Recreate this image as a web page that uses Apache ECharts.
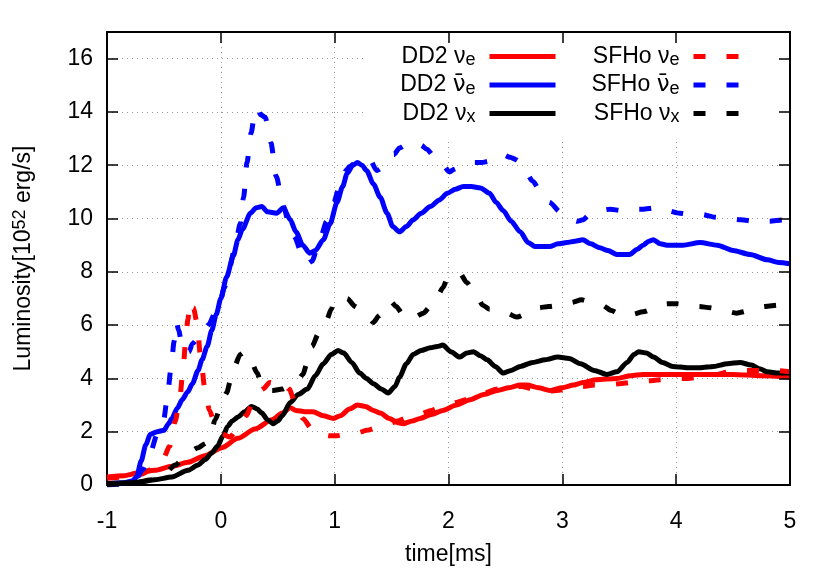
<!DOCTYPE html>
<html>
<head>
<meta charset="utf-8">
<script src="https://cdn.jsdelivr.net/npm/echarts@6/dist/echarts.min.js"></script>
<style>html,body{margin:0;padding:0;background:#fff}#c{width:830px;height:581px}</style>
</head>
<body>
<div id="c"></div>
<script>
// ---- data (time in ms, luminosity in 1e52 erg/s) ----
const xTicks = [-1, 0, 1, 2, 3, 4, 5];
const yTicks = [0, 2, 4, 6, 8, 10, 12, 14, 16];
const seriesNames = ['DD2 νe', 'DD2 anue', 'DD2 νx', 'SFHo νe', 'SFHo anue', 'SFHo νx'];

const dd2Nue = [[-1,0.3],[-0.85,0.35],[-0.73,0.45],[-0.58,0.55],[-0.43,0.7],[-0.29,0.85],[-0.14,1.1],[0.01,1.4],[0.15,1.75],[0.3,2.1],[0.45,2.45],[0.54,2.7],[0.61,2.9],[0.66,2.8],[0.74,2.75],[0.81,2.75],[0.9,2.6],[0.99,2.5],[1.05,2.6],[1.13,2.85],[1.2,3.0],[1.27,2.95],[1.34,2.8],[1.4,2.7],[1.48,2.5],[1.55,2.35],[1.6,2.3],[1.68,2.4],[1.75,2.5],[1.85,2.65],[1.95,2.8],[2.07,3.0],[2.19,3.2],[2.31,3.4],[2.43,3.55],[2.53,3.65],[2.63,3.75],[2.69,3.75],[2.79,3.65],[2.89,3.55],[3.0,3.65],[3.1,3.75],[3.18,3.85],[3.3,3.95],[3.48,4.0],[3.6,4.1],[3.71,4.15],[3.9,4.15],[4.06,4.15],[4.3,4.15],[4.5,4.15],[4.75,4.1],[5,4.05]];

const dd2Anue = [[-1,0.05],[-0.85,0.08],[-0.78,0.15],[-0.74,0.3],[-0.7,0.9],[-0.66,1.5],[-0.62,1.9],[-0.56,2.0],[-0.5,2.05],[-0.46,2.3],[-0.43,2.5],[-0.38,2.9],[-0.34,3.2],[-0.29,3.5],[-0.25,3.8],[-0.2,4.3],[-0.165,4.7],[-0.12,5.2],[-0.08,5.8],[-0.04,6.4],[0.0,7.0],[0.05,7.8],[0.11,8.6],[0.15,9.2],[0.19,9.6],[0.26,10.2],[0.31,10.4],[0.36,10.45],[0.41,10.25],[0.49,10.2],[0.55,10.4],[0.61,9.95],[0.66,9.5],[0.72,9.0],[0.78,8.7],[0.83,8.8],[0.9,9.2],[0.96,9.8],[1.02,10.6],[1.07,11.2],[1.11,11.7],[1.16,12.0],[1.2,12.1],[1.24,12.0],[1.28,11.8],[1.34,11.3],[1.4,10.8],[1.46,10.2],[1.51,9.7],[1.57,9.5],[1.63,9.7],[1.69,9.95],[1.76,10.2],[1.84,10.45],[1.92,10.7],[1.99,10.95],[2.06,11.1],[2.13,11.2],[2.2,11.2],[2.28,11.15],[2.36,10.95],[2.42,10.6],[2.48,10.3],[2.55,9.9],[2.63,9.5],[2.7,9.1],[2.76,8.95],[2.89,8.95],[2.96,9.05],[3.04,9.1],[3.11,9.15],[3.18,9.2],[3.25,9.05],[3.33,8.9],[3.4,8.8],[3.48,8.65],[3.59,8.65],[3.66,8.85],[3.71,9.0],[3.76,9.15],[3.8,9.2],[3.86,9.05],[3.92,9.0],[4.06,9.0],[4.21,9.1],[4.36,9.0],[4.5,8.8],[4.65,8.65],[4.8,8.45],[4.9,8.35],[5,8.3]];

const dd2Nux = [[-1,0.05],[-0.8,0.08],[-0.7,0.12],[-0.58,0.2],[-0.43,0.3],[-0.29,0.55],[-0.2,0.75],[-0.14,0.95],[-0.08,1.2],[-0.03,1.45],[0.02,1.85],[0.06,2.2],[0.1,2.4],[0.15,2.55],[0.21,2.75],[0.27,2.95],[0.32,2.85],[0.36,2.7],[0.41,2.45],[0.46,2.3],[0.5,2.4],[0.54,2.6],[0.61,3.1],[0.68,3.4],[0.76,3.6],[0.83,4.1],[0.9,4.55],[0.97,4.9],[1.03,5.05],[1.08,4.95],[1.15,4.6],[1.22,4.2],[1.28,4.0],[1.34,3.8],[1.41,3.6],[1.47,3.45],[1.53,3.7],[1.57,4.05],[1.63,4.55],[1.69,4.9],[1.76,5.05],[1.84,5.15],[1.9,5.2],[1.95,5.25],[2.02,5.0],[2.1,4.8],[2.16,4.95],[2.22,5.0],[2.28,4.85],[2.34,4.7],[2.41,4.45],[2.48,4.2],[2.55,4.3],[2.63,4.45],[2.74,4.6],[2.85,4.7],[2.96,4.8],[3.06,4.75],[3.16,4.55],[3.28,4.3],[3.39,4.15],[3.48,4.25],[3.57,4.6],[3.63,4.9],[3.67,5.0],[3.74,4.95],[3.8,4.8],[3.88,4.6],[3.97,4.45],[4.1,4.4],[4.21,4.4],[4.33,4.45],[4.45,4.55],[4.56,4.6],[4.66,4.5],[4.74,4.35],[4.8,4.25],[4.9,4.2],[5,4.2]];

const sfhoNue = [[-1,0.25],[-0.85,0.3],[-0.7,0.4],[-0.6,0.6],[-0.51,0.95],[-0.45,1.45],[-0.4,2.4],[-0.36,3.3],[-0.33,4.4],[-0.31,5.4],[-0.29,6.2],[-0.27,6.9],[-0.24,6.65],[-0.21,6.1],[-0.18,4.9],[-0.14,3.6],[-0.1,2.8],[-0.06,2.4],[-0.02,2.15],[0.02,1.9],[0.08,1.8],[0.15,2.1],[0.22,2.6],[0.3,3.3],[0.37,3.6],[0.43,3.85],[0.49,3.8],[0.54,3.9],[0.6,3.6],[0.66,3.0],[0.72,2.5],[0.8,2.1],[0.87,1.95],[0.95,1.85],[1.02,1.85],[1.1,1.9],[1.2,1.95],[1.28,2.05],[1.37,2.15],[1.46,2.25],[1.55,2.4],[1.65,2.55],[1.75,2.65],[1.85,2.8],[1.95,2.95],[2.07,3.1],[2.19,3.25],[2.31,3.45],[2.43,3.6],[2.54,3.7],[2.64,3.7],[2.74,3.6],[2.84,3.5],[2.95,3.55],[3.07,3.6],[3.18,3.7],[3.28,3.75],[3.38,3.75],[3.5,3.8],[3.61,3.85],[3.73,3.9],[3.86,3.95],[3.98,4.0],[4.1,4.0],[4.22,4.05],[4.35,4.15],[4.47,4.25],[4.59,4.3],[4.72,4.3],[4.85,4.3],[5,4.25]];

const sfhoAnue = [[-1,0.0],[-0.85,0.05],[-0.75,0.2],[-0.68,0.6],[-0.62,1.2],[-0.56,1.9],[-0.5,2.5],[-0.47,3.3],[-0.44,4.3],[-0.41,5.4],[-0.39,6.1],[-0.37,5.8],[-0.34,5.2],[-0.31,4.95],[-0.28,5.0],[-0.25,5.3],[-0.2,5.5],[-0.16,5.6],[-0.11,6.0],[-0.05,6.45],[0.0,7.0],[0.03,7.4],[0.08,8.2],[0.13,9.1],[0.17,9.8],[0.2,10.8],[0.23,12.1],[0.265,13.2],[0.3,14.0],[0.32,14.15],[0.35,13.9],[0.39,13.8],[0.44,12.85],[0.485,11.6],[0.55,10.45],[0.6,9.8],[0.65,9.3],[0.7,8.8],[0.76,8.3],[0.8,8.4],[0.87,9.2],[0.93,9.9],[0.99,10.6],[1.05,11.3],[1.1,11.8],[1.13,11.95],[1.2,12.15],[1.26,12.2],[1.31,12.2],[1.37,11.8],[1.42,11.9],[1.47,12.1],[1.52,12.4],[1.57,12.65],[1.64,12.8],[1.71,12.85],[1.76,12.75],[1.81,12.6],[1.87,12.35],[1.93,12.1],[2.01,11.75],[2.05,11.85],[2.1,11.95],[2.16,12.0],[2.22,12.1],[2.29,12.1],[2.36,12.15],[2.42,12.25],[2.48,12.4],[2.54,12.3],[2.6,12.2],[2.67,11.8],[2.74,11.4],[2.81,11.0],[2.89,10.6],[2.98,10.25],[3.07,10.0],[3.13,9.9],[3.18,9.95],[3.24,10.15],[3.33,10.3],[3.42,10.35],[3.52,10.3],[3.61,10.35],[3.71,10.35],[3.81,10.4],[3.92,10.3],[4.03,10.2],[4.13,10.15],[4.23,10.15],[4.34,10.05],[4.45,10.0],[4.57,9.95],[4.69,9.9],[4.82,9.9],[4.94,9.95],[5,9.95]];

const sfhoNux = [[-1,0.02],[-0.8,0.05],[-0.6,0.2],[-0.5,0.4],[-0.4,0.75],[-0.29,1.2],[-0.2,1.4],[-0.14,1.55],[-0.09,1.9],[-0.05,2.45],[0.0,2.95],[0.05,3.45],[0.09,4.0],[0.12,4.45],[0.17,4.9],[0.21,5.0],[0.26,4.7],[0.32,4.2],[0.36,3.7],[0.41,3.55],[0.46,3.55],[0.54,3.6],[0.63,3.8],[0.68,3.95],[0.72,4.15],[0.76,4.6],[0.8,5.2],[0.86,5.7],[0.93,6.2],[0.97,6.6],[1.0,6.95],[1.05,7.05],[1.11,7.0],[1.18,6.7],[1.25,6.45],[1.3,6.25],[1.34,6.1],[1.39,6.35],[1.44,6.7],[1.49,6.9],[1.54,6.7],[1.6,6.4],[1.64,6.25],[1.7,6.3],[1.78,6.45],[1.84,6.7],[1.9,7.05],[1.95,7.4],[1.99,7.75],[2.05,7.95],[2.1,7.95],[2.16,7.6],[2.22,7.3],[2.26,7.0],[2.3,6.75],[2.36,6.6],[2.43,6.55],[2.51,6.45],[2.6,6.3],[2.7,6.45],[2.79,6.65],[2.88,6.7],[2.98,6.75],[3.08,6.85],[3.17,6.95],[3.26,6.85],[3.35,6.75],[3.43,6.55],[3.51,6.4],[3.61,6.4],[3.71,6.5],[3.82,6.65],[3.92,6.8],[4.01,6.8],[4.1,6.75],[4.2,6.7],[4.3,6.65],[4.41,6.55],[4.53,6.45],[4.65,6.55],[4.78,6.7],[4.9,6.75],[5,6.75]];

// ---- chart ----
const FONT = '"Liberation Sans", Arial, Helvetica, sans-serif';
const RED = '#ff0000', BLUE = '#0000ff', BLACK = '#000000';
const DASH = [12, 21];
const LW = 5;

const legendLabels = {
  'DD2 νe':   '{a|DD2 ν}{b|e}{g|}',
  'DD2 anue': '{a|DD2 }{v|ν\u0304}{b|e}{g|}',
  'DD2 νx':   '{a|DD2 ν}{b|x}{g|}',
  'SFHo νe':  '{a|SFHo ν}{b|e}{g|}',
  'SFHo anue':'{a|SFHo }{v|ν\u0304}{b|e}{g|}',
  'SFHo νx':  '{a|SFHo ν}{b|x}{g|}'
};
const legendRich = {
  a: {fontSize: 23, fontFamily: FONT, color: '#000', lineHeight: 26},
  v: {fontSize: 23, fontFamily: '"DejaVu Sans", sans-serif', color: '#000', lineHeight: 26},
  b: {fontSize: 18, fontFamily: FONT, color: '#000', lineHeight: 12, verticalAlign: 'bottom'},
  g: {width: 9}
};

function mkSeries(name, data, color, dashed) {
  return {
    name: name, type: 'line', data: data, symbol: 'none', showSymbol: false,
    smooth: 0.25, smoothMonotone: 'x', xAxisIndex: 0, yAxisIndex: 0,
    lineStyle: {color: color, width: LW, type: dashed ? DASH : 'solid', cap: 'butt', join: 'round'},
    itemStyle: {color: color},
    emphasis: {disabled: true}
  };
}

const axisTick = {show: true, inside: true, length: 11, lineStyle: {color: '#000', width: 1.5}};
const axisLine = {show: true, onZero: false, lineStyle: {color: '#000', width: 2}};
const gridLine = {show: true, lineStyle: {color: '#999', width: 1, type: [1, 4]}};
const tickFont = {fontSize: 23, fontFamily: FONT, color: '#000'};

const legendCommon = {
  orient: 'vertical', align: 'right', top: 45, padding: 0, itemGap: 4,
  itemWidth: 66, itemHeight: 14, z: 20, selectedMode: false,
  lineStyle: {width: LW, cap: 'butt'},
  itemStyle: {opacity: 0, borderWidth: 0},
  textStyle: {fontSize: 23, fontFamily: FONT, color: '#000', rich: legendRich},
  formatter: function (n) { return legendLabels[n]; }
};

const option = {
  animation: false,
  backgroundColor: '#fff',
  grid: {left: 107, right: 40, top: 32, bottom: 96, containLabel: false},
  xAxis: [{
    type: 'value', min: xTicks[0], max: xTicks[xTicks.length - 1], interval: 1,
    name: 'time[ms]', nameLocation: 'middle', nameGap: 58,
    nameTextStyle: {fontSize: 23, fontFamily: FONT, color: '#000'},
    axisLine: axisLine, axisTick: axisTick, splitLine: gridLine,
    axisLabel: Object.assign({margin: 25}, tickFont)
  }, {
    type: 'value', position: 'top', min: xTicks[0], max: xTicks[xTicks.length - 1], interval: 1,
    axisLine: axisLine, axisTick: axisTick, splitLine: {show: false}, axisLabel: {show: false}, z: 10
  }],
  yAxis: [{
    type: 'value', min: yTicks[0], max: 17, interval: 2,
    name: '{m|Luminosity[10}{s|52}{m| erg/s]}', nameLocation: 'middle', nameGap: 70, nameRotate: 90,
    nameTextStyle: {fontSize: 23, fontFamily: FONT, color: '#000', rich: {
      m: {fontSize: 23, fontFamily: FONT, color: '#000', lineHeight: 26},
      s: {fontSize: 18, fontFamily: FONT, color: '#000', lineHeight: 12, verticalAlign: 'top'}
    }},
    axisLine: axisLine, axisTick: axisTick, splitLine: gridLine,
    axisLabel: Object.assign({margin: 14, showMaxLabel: false}, tickFont)
  }, {
    type: 'value', position: 'right', min: yTicks[0], max: 17, interval: 2,
    axisLine: axisLine, axisTick: axisTick, splitLine: {show: false}, axisLabel: {show: false}, z: 10
  }],
  graphic: [{
    type: 'rect', z: 5, silent: true,
    shape: {x: 367, y: 33, width: 422, height: 105},
    style: {fill: '#fff'}
  }],
  legend: [
    Object.assign({}, legendCommon, {right: 272, data: seriesNames.slice(0, 3)}),
    Object.assign({}, legendCommon, {right: 68, data: seriesNames.slice(3, 6)})
  ],
  series: [
    mkSeries(seriesNames[0], dd2Nue, RED, false),
    mkSeries(seriesNames[1], dd2Anue, BLUE, false),
    mkSeries(seriesNames[2], dd2Nux, BLACK, false),
    mkSeries(seriesNames[3], sfhoNue, RED, true),
    mkSeries(seriesNames[4], sfhoAnue, BLUE, true),
    mkSeries(seriesNames[5], sfhoNux, BLACK, true)
  ]
};

const chart = echarts.init(document.getElementById('c'), null, {renderer: 'canvas'});
chart.setOption(option);
</script>
</body>
</html>
